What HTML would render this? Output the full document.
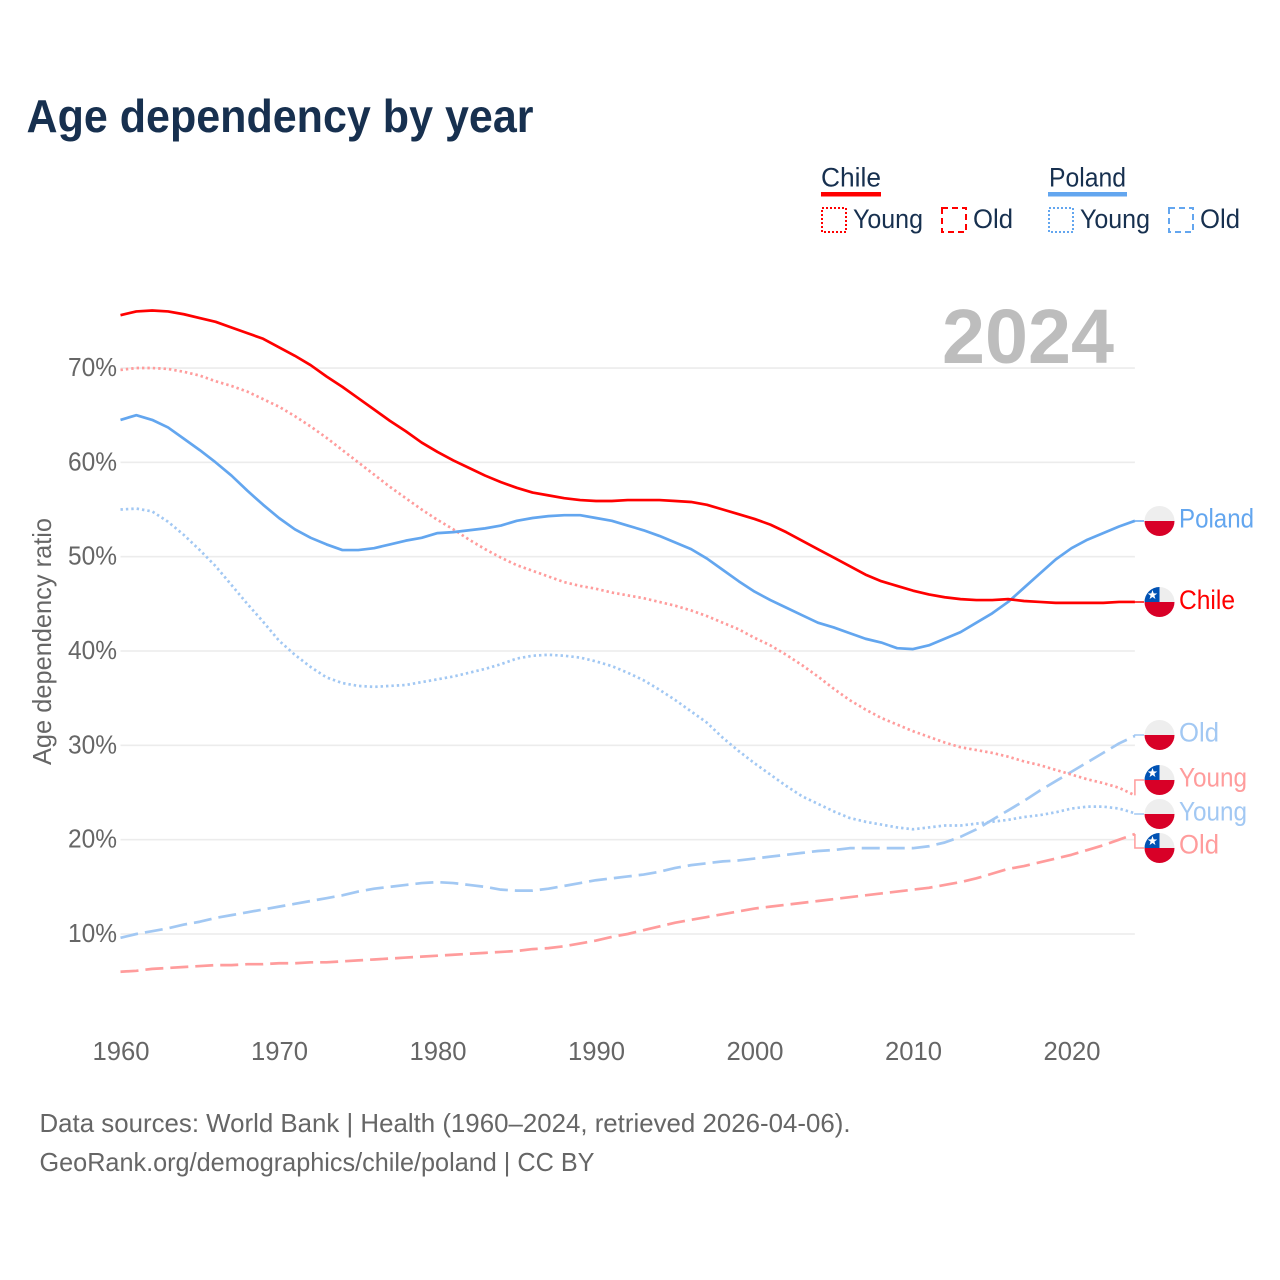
<!DOCTYPE html>
<html lang="en">
<head>
<meta charset="utf-8">
<title>Age dependency by year</title>
<style>
html,body{margin:0;padding:0;background:#fff;}
svg{display:block;font-family:"Liberation Sans",Arial,sans-serif;}
</style>
</head>
<body>
<svg id="chart" xmlns="http://www.w3.org/2000/svg" width="1280" height="1280" viewBox="0 0 1280 1280">
  <defs>
    <clipPath id="flagClip"><circle cx="0" cy="0" r="15"/></clipPath>
  </defs>
  <rect x="0" y="0" width="1280" height="1280" fill="#fff"/>
  <text x="26.5" y="132" font-size="46" font-weight="700" fill="#17304f" textLength="507" lengthAdjust="spacingAndGlyphs">Age dependency by year</text>

  <g font-size="27" fill="#17304f">
    <text x="821" y="186.5" textLength="60" lengthAdjust="spacingAndGlyphs">Chile</text>
    <rect x="821" y="192" width="60" height="4.5" fill="#ff0000"/>
    <rect x="822" y="208" width="24" height="24" fill="none" stroke="#ff0000" stroke-width="2" stroke-dasharray="2 2"/>
    <text x="853" y="228" textLength="70" lengthAdjust="spacingAndGlyphs">Young</text>
    <rect x="942" y="208" width="24" height="24" fill="none" stroke="#ff0000" stroke-width="2" stroke-dasharray="6 4"/>
    <text x="973" y="228" textLength="40" lengthAdjust="spacingAndGlyphs">Old</text>
    <text x="1049" y="186.5" textLength="77" lengthAdjust="spacingAndGlyphs">Poland</text>
    <rect x="1048" y="192" width="79" height="4.5" fill="#63a6ef"/>
    <rect x="1049" y="208" width="24" height="24" fill="none" stroke="#63a6ef" stroke-width="2" stroke-dasharray="2 2"/>
    <text x="1080" y="228" textLength="70" lengthAdjust="spacingAndGlyphs">Young</text>
    <rect x="1169" y="208" width="24" height="24" fill="none" stroke="#63a6ef" stroke-width="2" stroke-dasharray="6 4"/>
    <text x="1200" y="228" textLength="40" lengthAdjust="spacingAndGlyphs">Old</text>
  </g>

  <g id="grid"></g>
  <text x="942" y="363" font-size="77" font-weight="700" fill="#bdbdbd" textLength="172" lengthAdjust="spacingAndGlyphs">2024</text>
  <g id="yTicks" font-size="26" fill="#666"></g>
  <g id="xTicks" font-size="26" fill="#666"></g>
  <text transform="translate(51,765) rotate(-90)" font-size="26" fill="#666" textLength="247" lengthAdjust="spacingAndGlyphs">Age dependency ratio</text>
  <g id="series" fill="none" stroke-linejoin="round"></g>
  <g id="connectors" fill="none" stroke-width="1.5"></g>

  <g font-size="27">
    <g transform="translate(1159.5,521)" clip-path="url(#flagClip)">
      <rect x="-15" y="-15" width="30" height="15" fill="#eeeeee"/><rect x="-15" y="0" width="30" height="15" fill="#d80027"/>
    </g>
    <text x="1179" y="527.5" fill="#63a6ef" textLength="75" lengthAdjust="spacingAndGlyphs">Poland</text>

    <g transform="translate(1159.5,602)" clip-path="url(#flagClip)">
      <rect x="-15" y="-15" width="30" height="15" fill="#eeeeee"/><rect x="-15" y="0" width="30" height="15" fill="#d80027"/><rect x="-15" y="-15" width="15" height="15" fill="#0052b4"/>
      <polygon transform="translate(-7,-7)" points="0,-5 1.18,-1.62 4.76,-1.55 1.9,0.62 2.94,4.05 0,2 -2.94,4.05 -1.9,0.62 -4.76,-1.55 -1.18,-1.62" fill="#fff"/>
    </g>
    <text x="1179" y="609" fill="#ff0000" textLength="56" lengthAdjust="spacingAndGlyphs">Chile</text>

    <g transform="translate(1159.5,735)" clip-path="url(#flagClip)">
      <rect x="-15" y="-15" width="30" height="15" fill="#eeeeee"/><rect x="-15" y="0" width="30" height="15" fill="#d80027"/>
    </g>
    <text x="1179" y="741.5" fill="#a2c8f3" textLength="40" lengthAdjust="spacingAndGlyphs">Old</text>

    <g transform="translate(1159.5,780)" clip-path="url(#flagClip)">
      <rect x="-15" y="-15" width="30" height="15" fill="#eeeeee"/><rect x="-15" y="0" width="30" height="15" fill="#d80027"/><rect x="-15" y="-15" width="15" height="15" fill="#0052b4"/>
      <polygon transform="translate(-7,-7)" points="0,-5 1.18,-1.62 4.76,-1.55 1.9,0.62 2.94,4.05 0,2 -2.94,4.05 -1.9,0.62 -4.76,-1.55 -1.18,-1.62" fill="#fff"/>
    </g>
    <text x="1179" y="786.5" fill="#ff9c9c" textLength="68" lengthAdjust="spacingAndGlyphs">Young</text>

    <g transform="translate(1159.5,814)" clip-path="url(#flagClip)">
      <rect x="-15" y="-15" width="30" height="15" fill="#eeeeee"/><rect x="-15" y="0" width="30" height="15" fill="#d80027"/>
    </g>
    <text x="1179" y="820.5" fill="#a2c8f3" textLength="68" lengthAdjust="spacingAndGlyphs">Young</text>

    <g transform="translate(1159.5,848)" clip-path="url(#flagClip)">
      <rect x="-15" y="-15" width="30" height="15" fill="#eeeeee"/><rect x="-15" y="0" width="30" height="15" fill="#d80027"/><rect x="-15" y="-15" width="15" height="15" fill="#0052b4"/>
      <polygon transform="translate(-7,-7)" points="0,-5 1.18,-1.62 4.76,-1.55 1.9,0.62 2.94,4.05 0,2 -2.94,4.05 -1.9,0.62 -4.76,-1.55 -1.18,-1.62" fill="#fff"/>
    </g>
    <text x="1179" y="853.5" fill="#ff9c9c" textLength="40" lengthAdjust="spacingAndGlyphs">Old</text>
  </g>

  <g font-size="26" fill="#666">
    <text x="39.5" y="1132" textLength="811" lengthAdjust="spacingAndGlyphs">Data sources: World Bank | Health (1960–2024, retrieved 2026-04-06).</text>
    <text x="39.5" y="1171" textLength="555" lengthAdjust="spacingAndGlyphs">GeoRank.org/demographics/chile/poland | CC BY</text>
  </g>
</svg>
<script>
var startYear = 1960;
var xTickYears = [1960, 1970, 1980, 1990, 2000, 2010, 2020];
var yTickValues = [10, 20, 30, 40, 50, 60, 70];

var chileTotal = [75.6,76.0,76.1,76.0,75.7,75.3,74.9,74.3,73.7,73.1,72.2,71.3,70.3,69.1,68.0,66.8,65.6,64.4,63.3,62.1,61.1,60.2,59.4,58.6,57.9,57.3,56.8,56.5,56.2,56.0,55.9,55.9,56.0,56.0,56.0,55.9,55.8,55.5,55.0,54.5,54.0,53.4,52.6,51.7,50.8,49.9,49.0,48.1,47.4,46.9,46.4,46.0,45.7,45.5,45.4,45.4,45.5,45.3,45.2,45.1,45.1,45.1,45.1,45.2,45.2];
var chileYoung = [69.8,70.0,70.0,69.9,69.6,69.2,68.6,68.1,67.5,66.7,65.9,64.9,63.8,62.6,61.3,60.0,58.7,57.4,56.2,55.0,53.9,52.9,51.8,50.8,49.9,49.1,48.5,47.9,47.3,46.9,46.6,46.2,45.9,45.6,45.2,44.8,44.3,43.7,43.0,42.3,41.4,40.6,39.6,38.5,37.3,36.0,34.8,33.8,32.9,32.2,31.5,30.9,30.3,29.8,29.5,29.2,28.8,28.3,27.9,27.4,26.9,26.4,26.0,25.5,24.7];
var chileOld = [6.0,6.1,6.3,6.4,6.5,6.6,6.7,6.7,6.8,6.8,6.9,6.9,7.0,7.0,7.1,7.2,7.3,7.4,7.5,7.6,7.7,7.8,7.9,8.0,8.1,8.2,8.4,8.5,8.7,9.0,9.3,9.7,10.0,10.4,10.8,11.2,11.5,11.8,12.1,12.4,12.7,12.9,13.1,13.3,13.5,13.7,13.9,14.1,14.3,14.5,14.7,14.9,15.2,15.5,15.9,16.4,16.9,17.2,17.6,18.0,18.4,18.9,19.4,20.0,20.6];
var polandTotal = [64.5,65.0,64.5,63.7,62.5,61.3,60.0,58.6,57.0,55.5,54.1,52.9,52.0,51.3,50.7,50.7,50.9,51.3,51.7,52.0,52.5,52.6,52.8,53.0,53.3,53.8,54.1,54.3,54.4,54.4,54.1,53.8,53.3,52.8,52.2,51.5,50.8,49.8,48.6,47.4,46.3,45.4,44.6,43.8,43.0,42.5,41.9,41.3,40.9,40.3,40.2,40.6,41.3,42.0,43.0,44.0,45.2,46.7,48.2,49.7,50.9,51.8,52.5,53.2,53.8];
var polandYoung = [55.0,55.1,54.8,53.7,52.3,50.7,49.0,47.0,45.0,43.1,41.1,39.6,38.3,37.2,36.6,36.3,36.2,36.3,36.4,36.7,37.0,37.3,37.7,38.1,38.6,39.2,39.5,39.6,39.5,39.3,38.9,38.4,37.7,36.9,35.9,34.8,33.6,32.4,30.8,29.4,28.1,26.9,25.7,24.6,23.8,23.0,22.3,21.9,21.6,21.3,21.1,21.3,21.5,21.5,21.7,21.9,22.1,22.4,22.6,22.9,23.3,23.5,23.5,23.3,22.8];
var polandOld = [9.6,10.0,10.3,10.6,11.0,11.3,11.7,12.0,12.3,12.6,12.9,13.2,13.5,13.8,14.1,14.5,14.8,15.0,15.2,15.4,15.5,15.4,15.2,15.0,14.7,14.6,14.6,14.8,15.1,15.4,15.7,15.9,16.1,16.3,16.6,17.0,17.3,17.5,17.7,17.8,18.0,18.2,18.4,18.6,18.8,18.9,19.1,19.1,19.1,19.1,19.1,19.3,19.7,20.3,21.1,22.1,23.1,24.1,25.2,26.2,27.2,28.2,29.2,30.2,31.0];

var SVG_NS = 'http://www.w3.org/2000/svg';
function xScale(year) { return 120.5 + (year - 1960) * 15.85; }
function yScale(value) { return 934 - (value - 10) * 9.433; }
function linePath(values) {
  var d = '';
  for (var i = 0; i < values.length; i++) {
    d += (i ? 'L' : 'M') + xScale(startYear + i).toFixed(2) + ' ' + yScale(values[i]).toFixed(2);
  }
  return d;
}

var gridGroup = document.getElementById('grid');
var yGroup = document.getElementById('yTicks');
yTickValues.forEach(function (v) {
  var gridLine = document.createElementNS(SVG_NS, 'line');
  
  
  gridLine.setAttribute('x1', xScale(1960));
  gridLine.setAttribute('x2', xScale(2024));
  gridLine.setAttribute('y1', yScale(v));
  gridLine.setAttribute('y2', yScale(v));
  gridLine.setAttribute('stroke', '#ececec');
  gridLine.setAttribute('stroke-width', '1.6');
  gridGroup.appendChild(gridLine);
  var label = document.createElementNS(SVG_NS, 'text');
  
  
  label.setAttribute('x', 68);
  label.setAttribute('y', yScale(v) + 8);
  label.setAttribute('textLength', 49);
  label.setAttribute('lengthAdjust', 'spacingAndGlyphs');
  label.textContent = v + '%';
  yGroup.appendChild(label);
});

var xGroup = document.getElementById('xTicks');
xTickYears.forEach(function (year) {
  var label = document.createElementNS(SVG_NS, 'text');
  
  
  label.setAttribute('x', xScale(year) - 28);
  label.setAttribute('y', 1060);
  label.setAttribute('textLength', 57);
  label.setAttribute('lengthAdjust', 'spacingAndGlyphs');
  label.textContent = year;
  xGroup.appendChild(label);
});

var seriesGroup = document.getElementById('series');
function addSeries(name, values, color, width, dash) {
  var path = document.createElementNS(SVG_NS, 'path');
  
  
  path.setAttribute('d', linePath(values));
  path.setAttribute('stroke', color);
  path.setAttribute('stroke-width', width);
  if (dash) { path.setAttribute('stroke-dasharray', dash); }
  seriesGroup.appendChild(path);
}
addSeries('line-poland-old', polandOld, '#a2c8f3', 2.7, '18 7');
addSeries('line-chile-old', chileOld, '#ff9c9c', 2.7, '18 7');
addSeries('line-poland-young', polandYoung, '#a2c8f3', 2.7, '2.4 3');
addSeries('line-chile-young', chileYoung, '#ff9c9c', 2.7, '2.4 3');
addSeries('line-poland-total', polandTotal, '#63a6ef', 2.7, '');
addSeries('line-chile-total', chileTotal, '#ff0000', 2.7, '');

var connectorGroup = document.getElementById('connectors');
function addConnector(name, values, color, flagY) {
  var endX = xScale(2024);
  var endY = yScale(values[values.length - 1]);
  var path = document.createElementNS(SVG_NS, 'path');
  
  
  path.setAttribute('d', 'M' + endX + ' ' + endY + 'L' + endX + ' ' + flagY + 'L1144 ' + flagY);
  path.setAttribute('stroke', color);
  connectorGroup.appendChild(path);
}
addConnector('connector-poland-total', polandTotal, '#63a6ef', 521);
addConnector('connector-chile-total', chileTotal, '#ff0000', 602);
addConnector('connector-poland-old', polandOld, '#a2c8f3', 735);
addConnector('connector-chile-young', chileYoung, '#ff9c9c', 780);
addConnector('connector-poland-young', polandYoung, '#a2c8f3', 814);
addConnector('connector-chile-old', chileOld, '#ff9c9c', 848);
</script>
</body>
</html>
